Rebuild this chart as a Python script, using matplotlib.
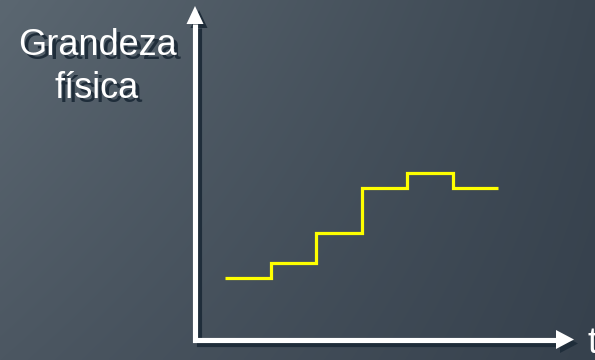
import numpy as np
import matplotlib
matplotlib.use("Agg")
import matplotlib.pyplot as plt
import matplotlib.transforms as mtransforms
from matplotlib.patches import Polygon
from matplotlib.lines import Line2D

# ==========================================
# DATA
# ==========================================

t_edges = [0, 1, 2, 3, 4, 5, 6]
levels = [4, 5, 7, 10, 11, 10]

y_label = "Grandeza\nfísica"
x_label = "t"

# ==========================================
# THEME
# ==========================================

W, H = 595, 360
TOP_LEFT = "#4c5762"
TOP_RIGHT = "#36414d"
BOTTOM_LEFT = "#5b6771"
BOTTOM_RIGHT = "#3b4651"
SHADOW = "#1f2d3a"
WHITE = "#ffffff"
YELLOW = "#ffff00"
FONT = "Liberation Sans"

def hex_rgb(c):
    return np.array([int(c[i:i + 2], 16) / 255 for i in (1, 3, 5)])

# ==========================================
# FIGURE + GRADIENT BACKGROUND
# ==========================================

fig = plt.figure(figsize=(W / 100, H / 100), dpi=100)

bg = fig.add_axes([0, 0, 1, 1])
u = np.linspace(0, 1, 300)[None, :, None]
v = np.linspace(0, 1, 200)[:, None, None]
top = hex_rgb(TOP_LEFT) * (1 - u) + hex_rgb(TOP_RIGHT) * u
bottom = hex_rgb(BOTTOM_LEFT) * (1 - u) + hex_rgb(BOTTOM_RIGHT) * u
grad = top * (1 - v) + bottom * v
bg.imshow(grad, aspect="auto", extent=[0, 1, 0, 1], interpolation="bilinear")
bg.set_xlim(0, 1)
bg.set_ylim(1, 0)
bg.axis("off")

ax = fig.add_axes([0, 0, 1, 1])
ax.patch.set_alpha(0)
ax.axis("off")

# data scale: 45.5 px per step, 15 px per level unit
ax.set_xlim(-225 / 45.5, (W - 225) / 45.5)
ax.set_ylim(-(H - 338) / 15, 338 / 15)

# pixel transform (origin top-left) for the decorations
px = mtransforms.Affine2D().scale(1 / W, -1 / H).translate(0, 1) + ax.transAxes

# ==========================================
# AXIS ARROWS (with drop shadow)
# ==========================================

def draw_arrows(dx, dy, color, z):
    ax.add_line(Line2D(
        [195 + dx, 195 + dx, 557 + dx],
        [24 + dy, 339.5 + dy, 339.5 + dy],
        color=color,
        linewidth=3.7,
        solid_joinstyle="miter",
        solid_capstyle="butt",
        transform=px,
        zorder=z
    ))
    ax.add_patch(Polygon(
        [(195 + dx, 6 + dy), (186.5 + dx, 24 + dy), (203.5 + dx, 24 + dy)],
        closed=True, facecolor=color, edgecolor="none",
        transform=px, zorder=z
    ))
    ax.add_patch(Polygon(
        [(574 + dx, 339.5 + dy), (556 + dx, 330 + dy), (556 + dx, 349 + dy)],
        closed=True, facecolor=color, edgecolor="none",
        transform=px, zorder=z
    ))

draw_arrows(4, 4, SHADOW, 2)
draw_arrows(0, 0, WHITE, 3)

# ==========================================
# LABELS (with drop shadow)
# ==========================================

for dx, dy, color, z in [(4, 4, SHADOW, 4), (0, 0, WHITE, 5)]:
    ax.text(
        97 + dx, 98 + dy, y_label,
        ha="center", va="baseline",
        fontsize=26, family=FONT, color=color,
        linespacing=1.28, multialignment="center",
        transform=px, zorder=z
    )
    ax.text(
        588 + dx, 353 + dy, x_label,
        ha="left", va="baseline",
        fontsize=26, family=FONT, color=color,
        transform=px, zorder=z
    )

# ==========================================
# STEP SIGNAL
# ==========================================

ax.stairs(
    levels,
    t_edges,
    baseline=None,
    color=YELLOW,
    linewidth=2.3,
    zorder=6
)

# ==========================================
# SAVE
# ==========================================

fig.savefig("out.png", dpi=100)
plt.close(fig)
